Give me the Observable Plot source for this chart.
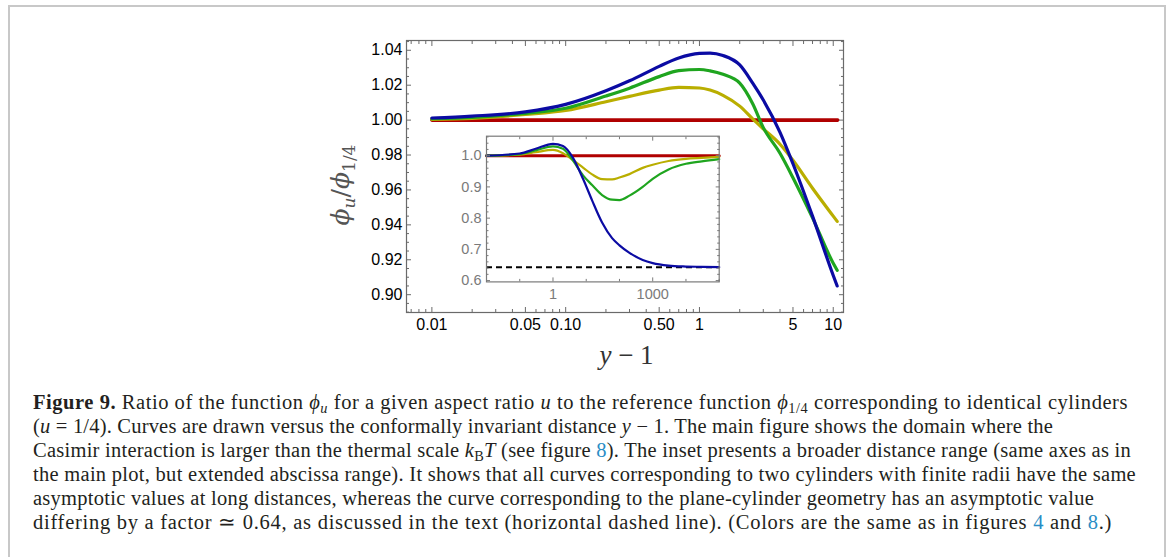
<!DOCTYPE html>
<html><head><meta charset="utf-8">
<script src="https://cdn.jsdelivr.net/npm/d3@7"></script>
<script src="https://cdn.jsdelivr.net/npm/@observablehq/plot@0.6"></script>
<style>
html,body{margin:0;padding:0;background:#fff;}
#page{position:relative;width:1168px;height:557px;overflow:hidden;background:#fff;}
#border{position:absolute;left:8px;top:5px;width:1158px;height:620px;border:2px solid #c8c8c8;box-sizing:border-box;}
#main,#inset{position:absolute;left:0;top:0;}
#inset{left:430px;top:120px;}
#caption{position:absolute;left:33px;top:390px;font-family:"Liberation Serif","Times New Roman",serif;font-size:20.5px;line-height:24px;color:#231f20;white-space:nowrap;}
#caption div{display:block;width:max-content;}
#caption .lnk{color:#2a8dc5;}
#caption sub{font-size:0.7em;line-height:0;vertical-align:-0.25em;}
</style></head>
<body><div id="page"><div id="border"></div><div id="main"></div><div id="inset"></div>
<div id="caption">
<div><b>Figure 9.</b> Ratio of the function <i>ϕ<sub>u</sub></i> for a given aspect ratio <i>u</i> to the reference function <i>ϕ</i><sub>1/4</sub> corresponding to identical cylinders</div>
<div>(<i>u</i> = 1/4). Curves are drawn versus the conformally invariant distance <i>y</i> − 1. The main figure shows the domain where the</div>
<div>Casimir interaction is larger than the thermal scale <i>k</i><sub>B</sub><i>T</i> (see figure <span class="lnk">8</span>). The inset presents a broader distance range (same axes as in</div>
<div>the main plot, but extended abscissa range). It shows that all curves corresponding to two cylinders with finite radii have the same</div>
<div>asymptotic values at long distances, whereas the curve corresponding to the plane-cylinder geometry has an asymptotic value</div>
<div>differing by a factor ≃ 0.64, as discussed in the text (horizontal dashed line). (Colors are the same as in figures <span class="lnk">4</span> and <span class="lnk">8</span>.)</div>
</div>
</div>
<script>
// ---------- main plot data ----------
const mainX      = [0.01, 0.02, 0.05, 0.1, 0.2, 0.3, 0.5, 0.7, 1, 1.2, 1.5, 2, 2.5, 3, 4, 5, 7, 10, 10.7];
const mainBlue   = [1.0012, 1.0023, 1.0047, 1.0090, 1.0168, 1.0225, 1.0308, 1.0356, 1.0382, 1.0384, 1.0370, 1.0316, 1.0212, 1.0115, 0.9930, 0.9750, 0.9450, 0.9110, 0.9050];
const mainGreen  = [1.0008, 1.0016, 1.0039, 1.0068, 1.0138, 1.0183, 1.0249, 1.0283, 1.0290, 1.0282, 1.0262, 1.0212, 1.0094, 0.9957, 0.9810, 0.9670, 0.9440, 0.9180, 0.9140];
const mainYellow = [1.0004, 1.0010, 1.0032, 1.0055, 1.0105, 1.0136, 1.0172, 1.0187, 1.0184, 1.0172, 1.0142, 1.0080, 1.0007, 0.9950, 0.9862, 0.9770, 0.9610, 0.9450, 0.9420];
const mainRedX   = [0.01, 10.8];
const mainRedY   = [1, 1];

const mainXTicks      = [0.01, 0.05, 0.1, 0.5, 1, 5, 10];
const mainXTickLabels = ["0.01", "0.05", "0.10", "0.50", "1", "5", "10"];
const mainXMinor      = [0.007, 0.008, 0.009, 0.02, 0.03, 0.04, 0.06, 0.07, 0.08, 0.09, 0.2, 0.3, 0.4, 0.6, 0.7, 0.8, 0.9, 2, 3, 4, 6, 7, 8, 9];
const mainYTicks      = [0.90, 0.92, 0.94, 0.96, 0.98, 1.00, 1.02, 1.04];
const mainYTickLabels = ["0.90", "0.92", "0.94", "0.96", "0.98", "1.00", "1.02", "1.04"];
const mainYMinor      = [0.89, 0.895, 0.905, 0.91, 0.915, 0.925, 0.93, 0.935, 0.945, 0.95, 0.955, 0.965, 0.97, 0.975, 0.985, 0.99, 0.995, 1.005, 1.01, 1.015, 1.025, 1.03, 1.035, 1.045];

// ---------- inset data ----------
const insetX      = [0.01, 0.1, 0.3, 1, 2, 4, 8, 15, 30, 60, 100, 200, 500, 1000, 3000, 10000, 30000, 100000];
const insetBlue   = [1.000, 1.007, 1.022, 1.038, 1.031, 0.993, 0.926, 0.857, 0.786, 0.736, 0.713, 0.689, 0.666, 0.656, 0.648, 0.645, 0.644, 0.643];
const insetGreen  = [1.000, 1.005, 1.017, 1.030, 1.022, 0.984, 0.937, 0.906, 0.874, 0.859, 0.858, 0.872, 0.900, 0.926, 0.956, 0.974, 0.982, 0.989];
const insetYellow = [1.000, 1.0035, 1.011, 1.0185, 1.008, 0.986, 0.962, 0.940, 0.925, 0.924, 0.930, 0.941, 0.961, 0.971, 0.983, 0.990, 0.993, 0.996];
const insetRedX   = [0.01, 100000];
const insetRedY   = [1, 1];
const asymptoteY  = 0.643;

const insetXTicks      = [1, 1000];
const insetXTickLabels = ["1", "1000"];
const insetXMinor      = [0.01, 0.1, 10, 100, 10000, 100000];
const insetYTicks      = [0.6, 0.7, 0.8, 0.9, 1.0];
const insetYTickLabels = ["0.6", "0.7", "0.8", "0.9", "1.0"];
const insetYMinor      = [0.62, 0.64, 0.66, 0.68, 0.72, 0.74, 0.76, 0.78, 0.82, 0.84, 0.86, 0.88, 0.92, 0.94, 0.96, 0.98, 1.02, 1.04, 1.06];

// caption line right ends (layout target)
const captionRightEdges = [1128, 1053, 1131, 1136, 1094, 1112];

const colors = {red: "#b00000", yellow: "#b9ae00", green: "#1fa51f", blue: "#0b0ba3"};

const pts = (xs, ys) => xs.map((x, i) => ({x, y: ys[i]}));
const fmt = (ticks, labels) => { const m = new Map(ticks.map((t, i) => [t, labels[i]])); return d => m.get(d) ?? ""; };
const none = () => "";

// ---------- main plot ----------
const W = 1168, H = 385;
const fL = 406, fR = 843, fT = 40, fB = 312;
const gray = "#6a6a6a";
const mainPlot = Plot.plot({
  width: W, height: H,
  marginLeft: fL, marginRight: W - fR, marginTop: fT, marginBottom: H - fB,
  x: {type: "log", domain: [0.00646, 11.93], label: null},
  y: {domain: [0.8898, 1.0456], label: null},
  style: {fontFamily: "'Liberation Sans', Arial, sans-serif", fontSize: "16px", color: "#000", background: "transparent", overflow: "visible"},
  marks: [
    Plot.line(pts(mainRedX, mainRedY), {x: "x", y: "y", stroke: colors.red, strokeWidth: 3.6}),
    Plot.line(pts(mainX, mainYellow), {x: "x", y: "y", stroke: colors.yellow, strokeWidth: 3.2, curve: "monotone-x"}),
    Plot.line(pts(mainX, mainGreen), {x: "x", y: "y", stroke: colors.green, strokeWidth: 3.2, curve: "monotone-x"}),
    Plot.line(pts(mainX, mainBlue), {x: "x", y: "y", stroke: colors.blue, strokeWidth: 3.2, curve: "monotone-x"}),
    Plot.frame({stroke: gray, strokeWidth: 1.2}),
    Plot.axisX({ticks: mainXTicks, anchor: "bottom", tickSize: -5, tickFormat: none, stroke: gray}),
    Plot.axisX({ticks: mainXMinor, anchor: "bottom", tickSize: -3, tickFormat: none, stroke: gray}),
    Plot.axisX({ticks: mainXTicks, anchor: "top", tickSize: -5, tickFormat: none, stroke: gray}),
    Plot.axisX({ticks: mainXMinor, anchor: "top", tickSize: -3, tickFormat: none, stroke: gray}),
    Plot.text(mainXTicks, {x: d => d, text: (d, i) => mainXTickLabels[i], frameAnchor: "bottom", lineAnchor: "top", dy: 6, fill: "#000"}),
    Plot.axisY({ticks: mainYTicks, anchor: "left", tickSize: -5, tickPadding: 9, tickFormat: fmt(mainYTicks, mainYTickLabels), stroke: gray, fill: "#000"}),
    Plot.axisY({ticks: mainYMinor, anchor: "left", tickSize: -3, tickFormat: none, stroke: gray}),
    Plot.axisY({ticks: mainYTicks, anchor: "right", tickSize: -5, tickFormat: none, stroke: gray}),
    Plot.axisY({ticks: mainYMinor, anchor: "right", tickSize: -3, tickFormat: none, stroke: gray})
  ]
});
document.getElementById("main").appendChild(mainPlot);

// axis labels (real SVG text)
const svgM = d3.select(mainPlot);
const xl = svgM.append("text")
  .attr("x", (fL + fR) / 2 + 2).attr("y", 364).attr("text-anchor", "middle")
  .attr("font-family", "'Liberation Serif','Times New Roman',serif").attr("font-size", 27).attr("fill", "#333");
xl.append("tspan").attr("font-style", "italic").text("y");
xl.append("tspan").text(" − 1");

const yl = svgM.append("text")
  .attr("transform", `translate(349,185) rotate(-90)`).attr("text-anchor", "middle")
  .attr("font-family", "'DejaVu Serif','Liberation Serif',serif").attr("font-size", 25).attr("fill", "#555");
yl.append("tspan").attr("font-style", "italic").text("ϕ");
yl.append("tspan").attr("font-style", "italic").attr("font-size", 17).attr("dy", 6).text("u");
yl.append("tspan").attr("dy", -6).text("/");
yl.append("tspan").attr("font-style", "italic").text("ϕ");
yl.append("tspan").attr("font-size", 17).attr("dy", 6).text("1/4");

// ---------- inset ----------
const IW = 300, IH = 190;
const iL = 486 - 430, iR = 718.7 - 430, iT = 135.7 - 120, iB = 281.4 - 120;
const igray = "#7a7a7a";
const insetPlot = Plot.plot({
  width: IW, height: IH,
  marginLeft: iL, marginRight: IW - iR, marginTop: iT, marginBottom: IH - iB,
  x: {type: "log", domain: [0.01, 100000], label: null},
  y: {domain: [0.5958, 1.0624], label: null},
  style: {fontFamily: "'Liberation Sans', Arial, sans-serif", fontSize: "14.5px", color: igray, background: "transparent", overflow: "visible"},
  marks: [
    Plot.frame({fill: "#fff"}),
    Plot.line(pts(insetRedX, insetRedY), {x: "x", y: "y", stroke: colors.red, strokeWidth: 3}),
    Plot.ruleY([asymptoteY], {stroke: "#000", strokeWidth: 2, strokeDasharray: "6,4"}),
    Plot.line(pts(insetX, insetYellow), {x: "x", y: "y", stroke: colors.yellow, strokeWidth: 2.2, curve: "monotone-x"}),
    Plot.line(pts(insetX, insetGreen), {x: "x", y: "y", stroke: colors.green, strokeWidth: 2.2, curve: "monotone-x"}),
    Plot.line(pts(insetX, insetBlue), {x: "x", y: "y", stroke: colors.blue, strokeWidth: 2.2, curve: "monotone-x"}),
    Plot.frame({stroke: igray, strokeWidth: 1.2}),
    Plot.axisX({ticks: insetXTicks, anchor: "bottom", tickSize: -4, tickFormat: none, stroke: igray}),
    Plot.axisX({ticks: insetXMinor, anchor: "bottom", tickSize: -2.5, tickFormat: none, stroke: igray}),
    Plot.axisX({ticks: insetXTicks, anchor: "top", tickSize: -4, tickFormat: none, stroke: igray}),
    Plot.axisX({ticks: insetXMinor, anchor: "top", tickSize: -2.5, tickFormat: none, stroke: igray}),
    Plot.text(insetXTicks, {x: d => d, text: (d, i) => insetXTickLabels[i], frameAnchor: "bottom", lineAnchor: "top", dy: 7, fill: igray}),
    Plot.axisY({ticks: insetYTicks, anchor: "left", tickSize: -4, tickPadding: 9, tickFormat: fmt(insetYTicks, insetYTickLabels), stroke: igray, fill: igray}),
    Plot.axisY({ticks: insetYMinor, anchor: "left", tickSize: -2.5, tickFormat: none, stroke: igray}),
    Plot.axisY({ticks: insetYTicks, anchor: "right", tickSize: -4, tickFormat: none, stroke: igray}),
    Plot.axisY({ticks: insetYMinor, anchor: "right", tickSize: -2.5, tickFormat: none, stroke: igray})
  ]
});
document.getElementById("inset").appendChild(insetPlot);

// fit caption lines to the reference line lengths
const capLeft = 33;
document.querySelectorAll("#caption > div").forEach((line, i) => {
  const w = line.getBoundingClientRect().width;
  const n = line.textContent.length;
  const target = captionRightEdges[i] - capLeft;
  line.style.letterSpacing = ((target - w) / n).toFixed(3) + "px";
});
</script>
</body></html>
